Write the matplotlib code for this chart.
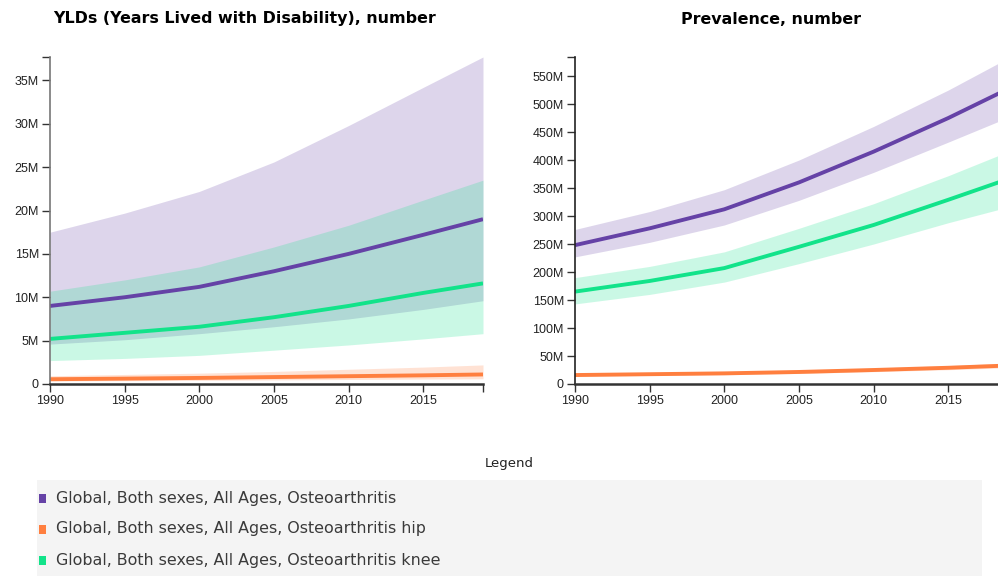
import numpy as np
import matplotlib
matplotlib.use("Agg")
import matplotlib.pyplot as plt
from matplotlib.patches import Rectangle
from matplotlib.ticker import FuncFormatter

# data (millions)
years = [1990, 1995, 2000, 2005, 2010, 2015, 2019]

# YLDs
yld_oa = [9.0, 10.0, 11.2, 13.0, 15.0, 17.2, 19.0]
yld_oa_lo = [4.6, 5.1, 5.8, 6.6, 7.5, 8.6, 9.6]
yld_oa_hi = [17.5, 19.7, 22.2, 25.6, 29.8, 34.2, 37.7]
yld_hip = [0.55, 0.62, 0.7, 0.8, 0.9, 1.0, 1.1]
yld_hip_lo = [0.35, 0.38, 0.42, 0.47, 0.52, 0.57, 0.6]
yld_hip_hi = [0.95, 1.1, 1.25, 1.45, 1.7, 1.95, 2.2]
yld_knee = [5.2, 5.9, 6.6, 7.7, 9.0, 10.5, 11.6]
yld_knee_lo = [2.7, 2.95, 3.3, 3.9, 4.5, 5.2, 5.8]
yld_knee_hi = [10.7, 12.0, 13.5, 15.8, 18.3, 21.2, 23.5]

# Prevalence
prev_oa = [248, 278, 312, 360, 415, 475, 527]
prev_oa_lo = [227, 253, 284, 328, 378, 432, 476]
prev_oa_hi = [276, 308, 347, 400, 460, 525, 582]
prev_hip = [16, 17.5, 19, 21.5, 25, 29, 33]
prev_hip_lo = [14, 15.3, 16.6, 18.8, 22, 25.5, 29]
prev_hip_hi = [18, 19.8, 21.5, 24.3, 28.3, 32.8, 37.5]
prev_knee = [165, 184, 207, 245, 284, 329, 366]
prev_knee_lo = [143, 160, 182, 215, 250, 288, 316]
prev_knee_hi = [190, 210, 236, 278, 322, 372, 415]

labels = ["Global, Both sexes, All Ages, Osteoarthritis",
          "Global, Both sexes, All Ages, Osteoarthritis hip",
          "Global, Both sexes, All Ages, Osteoarthritis knee"]
colors = ["#6542a6", "#ff7f3f", "#12e38a"]

fig = plt.figure(figsize=(9.98, 5.76), dpi=100)


def style_axis(ax, ymax, step, xmax, ycol):
    for s in ["top", "right"]:
        ax.spines[s].set_visible(False)
    ax.spines["left"].set_color(ycol)
    ax.spines["bottom"].set_color("#333333")
    ax.spines["left"].set_linewidth(1.2)
    ax.spines["bottom"].set_linewidth(1.8)
    ax.set_xlim(1990, xmax)
    ax.set_ylim(0, ymax)
    ax.set_xticks([1990, 1995, 2000, 2005, 2010, 2015])
    ax.set_yticks(np.arange(0, ymax, step))
    ax.set_xticks([1990, xmax], minor=True)
    ax.set_yticks([ymax], minor=True)
    ax.yaxis.set_major_formatter(FuncFormatter(lambda v, p: "0" if v == 0 else "%dM" % v))
    ax.tick_params(axis="both", which="major", length=6, width=1, color="#333333",
                   labelsize=9, labelcolor="#222222", pad=2)
    ax.tick_params(axis="both", which="minor", length=6, width=1, color="#333333")
    for lab in ax.get_xticklabels() + ax.get_yticklabels():
        lab.set_family("Liberation Sans")


def draw(ax, series):
    for (mid, lo, hi), c in zip(series, colors):
        ax.fill_between(years, lo, hi, color=c, alpha=0.22, linewidth=0)
        ax.plot(years, mid, color=c, linewidth=2.8, solid_capstyle="butt")


ax1 = fig.add_axes([50 / 998, 1 - 384 / 576, 433 / 998, 327 / 576])
draw(ax1, [(yld_oa, yld_oa_lo, yld_oa_hi), (yld_hip, yld_hip_lo, yld_hip_hi),
           (yld_knee, yld_knee_lo, yld_knee_hi)])
style_axis(ax1, 37.7, 5, 2019, "#777777")

ax2 = fig.add_axes([575 / 998, 1 - 384 / 576, 433 / 998, 327 / 576])
draw(ax2, [(prev_oa, prev_oa_lo, prev_oa_hi), (prev_hip, prev_hip_lo, prev_hip_hi),
           (prev_knee, prev_knee_lo, prev_knee_hi)])
style_axis(ax2, 584, 50, 2019, "#222222")

fig.text(245 / 998, 1 - 19 / 576, "YLDs (Years Lived with Disability), number",
         ha="center", va="center", fontsize=11.4, fontweight="bold", family="DejaVu Sans")
fig.text(771 / 998, 1 - 19 / 576, "Prevalence, number",
         ha="center", va="center", fontsize=11.4, fontweight="bold", family="DejaVu Sans")

# legend
fig.text(509 / 998, 1 - 464 / 576, "Legend", ha="center", va="center",
         fontsize=9.5, color="#222222", family="DejaVu Sans")
fig.patches.append(Rectangle((37 / 998, 0), 945 / 998, 96 / 576,
                             transform=fig.transFigure, facecolor="#f4f4f4",
                             edgecolor="none", zorder=0))
for i, (lab, c) in enumerate(zip(labels, colors)):
    yc = 498 + 31 * i
    fig.patches.append(Rectangle((39 / 998, 1 - (yc + 4.5) / 576), 7 / 998, 9 / 576,
                                 transform=fig.transFigure, facecolor=c,
                                 edgecolor="none", zorder=1))
    fig.text(56 / 998, 1 - yc / 576, lab, ha="left", va="center", fontsize=11.4,
             color="#3a3a3a", family="DejaVu Sans")

fig.savefig("out.png", dpi=100)
